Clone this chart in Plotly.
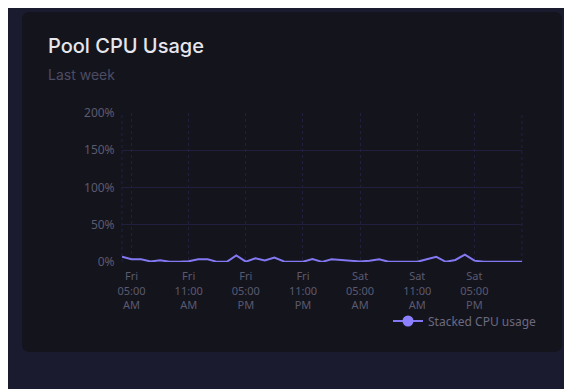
import plotly.graph_objects as go
import pandas as pd

# ---- data ----
TIMES = pd.date_range("2024-03-01 04:00", "2024-03-02 22:00", freq="h")
CPU_USAGE = [7, 3.6, 3.6, 0.8, 2.2, 0.5, 0.5, 1, 3.6, 3.6, 0.2, 0.2, 8.8, 0.4, 5, 2.2, 6, 0.8, 0.3, 0.4,
             4, 0.2, 3.6, 2.7, 2.7, 0.8, 1.8, 3.6, 0.3, 0.3, 0.3, 0.3, 3.6, 7, 0.3, 2.7, 10, 1.8, 0.2, 0.2, 0.2, 0.2, 0.2]
TICK_TIMES = ["2024-03-01 05:00", "2024-03-01 11:00", "2024-03-01 17:00", "2024-03-01 23:00",
              "2024-03-02 05:00", "2024-03-02 11:00", "2024-03-02 17:00"]
TICK_LABELS = ["Fri<br>05:00<br>AM", "Fri<br>11:00<br>AM", "Fri<br>05:00<br>PM", "Fri<br>11:00<br>PM",
               "Sat<br>05:00<br>AM", "Sat<br>11:00<br>AM", "Sat<br>05:00<br>PM"]
Y_TICKS = [0, 50, 100, 150, 200]
Y_LABELS = ["0%", "50%", "100%", "150%", "200%"]
SERIES_NAME = "Stacked CPU usage"
TITLE = "Pool CPU Usage"
SUBTITLE = "Last week"

# ---- layout constants (page has an 8px body margin) ----
OFF = 8
W, H = 572 - OFF, 389 - OFF
L, R, T = 122 - OFF, 572 - 522, 113 - OFF
B = H - (262 - OFF)
PW, PH = W - L - R, H - T - B

PAGE_BG = "#1a1b2f"
CARD_BG = "#14141d"
GRID = "#201f3e"
TICK_COL = "#5b5a6f"
LINE_COL = "#8378f2"
MARKER_COL = "#8c80ff"

def px_x(x):
    return (x - OFF - L) / PW

def px_y(y):
    return (H - B - (y - OFF)) / PH

fig = go.Figure()
fig.add_trace(go.Scatter(x=TIMES, y=CPU_USAGE, mode="lines", name=SERIES_NAME,
                         line=dict(color=LINE_COL, width=2), showlegend=False,
                         hoverinfo="skip"))
fig.add_trace(go.Scatter(x=[None], y=[None], mode="lines+markers", name=SERIES_NAME,
                         line=dict(color=LINE_COL, width=2),
                         marker=dict(color=MARKER_COL, size=11)))

# card with rounded corners
x0, x1 = px_x(22), px_x(562)
y0, y1 = px_y(352), px_y(12)
rx, ry = 8 / PW, 8 / PH
path = (f"M {x0+rx},{y1} L {x1-rx},{y1} Q {x1},{y1} {x1},{y1-ry} "
        f"L {x1},{y0+ry} Q {x1},{y0} {x1-rx},{y0} L {x0+rx},{y0} "
        f"Q {x0},{y0} {x0},{y0+ry} L {x0},{y1-ry} Q {x0},{y1} {x0+rx},{y1} Z")
shapes = [dict(type="path", xref="paper", yref="paper", path=path,
               fillcolor=CARD_BG, line=dict(width=0), layer="below")]
for xe in (0, 1):
    shapes.append(dict(type="line", xref="paper", yref="paper", x0=xe, x1=xe, y0=0, y1=1,
                       line=dict(color=GRID, width=1, dash="3px,3px"), layer="below"))

fig.update_layout(
    width=W, height=H,
    margin=dict(l=L, r=R, t=T, b=B),
    paper_bgcolor=PAGE_BG, plot_bgcolor="rgba(0,0,0,0)",
    shapes=shapes,
    font=dict(family="Noto Sans", color=TICK_COL, size=12),
    xaxis=dict(range=[TIMES[0], TIMES[-1]], tickvals=TICK_TIMES, ticktext=TICK_LABELS,
               showgrid=True, gridcolor=GRID, griddash="3px,3px", gridwidth=1,
               zeroline=False, showline=False, ticks="outside", ticklen=4,
               tickcolor="rgba(0,0,0,0)", tickfont=dict(size=11, color=TICK_COL)),
    yaxis=dict(range=[0, 200], tickvals=Y_TICKS, ticktext=Y_LABELS,
               showgrid=True, gridcolor=GRID, gridwidth=1, zeroline=False, showline=False,
               ticks="outside", ticklen=4, tickcolor="rgba(0,0,0,0)",
               tickfont=dict(size=12, color=TICK_COL)),
    legend=dict(orientation="h", xanchor="right", x=px_x(542), yanchor="middle", y=px_y(321),
                font=dict(size=12, color="#6b6a80"), bgcolor="rgba(0,0,0,0)"),
    annotations=[
        dict(text=TITLE, xref="paper", yref="paper", x=px_x(46), y=px_y(46),
             xanchor="left", yanchor="middle", showarrow=False,
             font=dict(family="Inter", size=20, weight=500, color="#e6e6ec")),
        dict(text=SUBTITLE, xref="paper", yref="paper", x=px_x(46), y=px_y(74),
             xanchor="left", yanchor="middle", showarrow=False,
             font=dict(family="Inter", size=14, color="#4d4c63")),
    ],
)

fig.write_html("out.html")
